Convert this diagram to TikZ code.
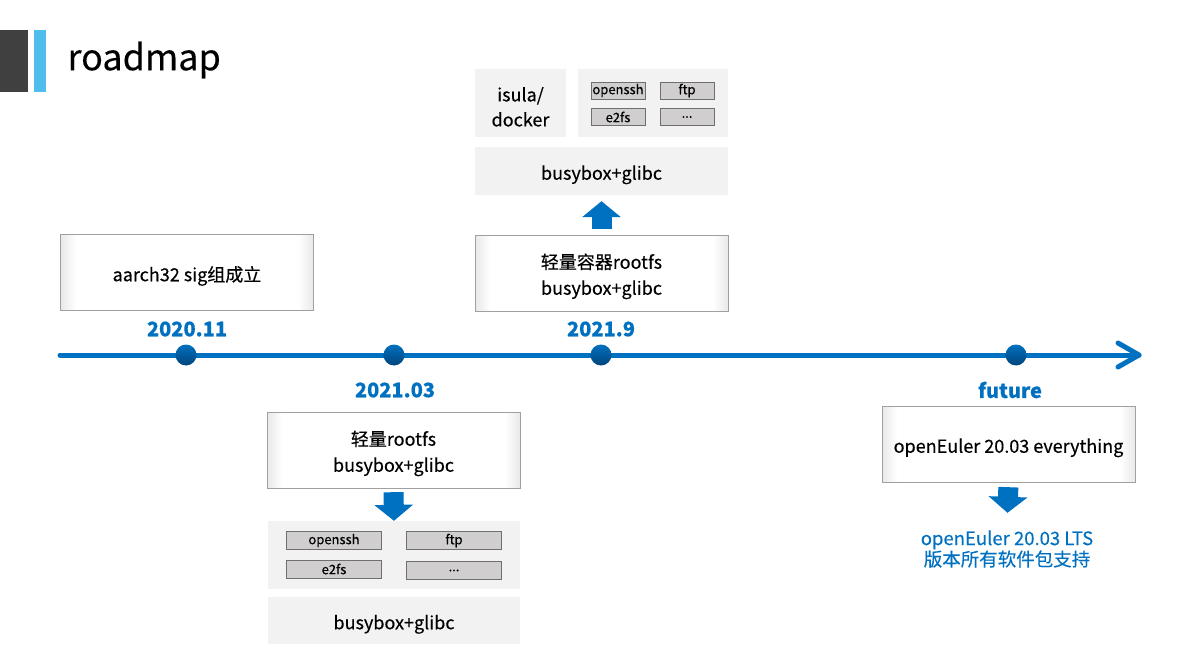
\documentclass[tikz,border=0pt]{standalone}
\usepackage{fontspec}
\setmainfont{Noto Sans CJK SC}[FakeBold=0.3]
\usetikzlibrary{arrows.meta}
\definecolor{roadBlue}{HTML}{0070C0}
\definecolor{dotDark}{HTML}{00457A}
\definecolor{titleGray}{HTML}{404040}
\definecolor{titleBlue}{HTML}{50BEEC}
\definecolor{layerGray}{HTML}{F2F2F2}
\definecolor{pkgFill}{HTML}{D0CECE}
\definecolor{pkgLine}{HTML}{6F6F6F}
\definecolor{boxLine}{HTML}{A0A0A0}
\newcommand{\pkgDots}{.\kern0pt.\kern0pt.}
\newcommand{\boxStrut}{\rule{0pt}{22pt}}
\pgfdeclarehorizontalshading{boxEdge}{100bp}{color(0bp)=(black!9); color(25bp)=(black!9);
  color(28bp)=(white); color(72bp)=(white); color(75bp)=(black!9); color(100bp)=(black!9)}
\begin{document}
\begin{tikzpicture}
[x=1pt,y=-1pt,
  boxDecorate/.style={draw=boxLine,shading=boxEdge,minimum width=253pt,minimum height=76pt,
    align=center,font=\fontsize{18}{26}\selectfont},
  layerDecorate/.style={fill=layerGray,inner sep=0pt,align=center,font=\fontsize{18}{25}\selectfont},
  pkgDecorate/.style={draw=pkgLine,fill=pkgFill,inner sep=0pt,font=\fontsize{#1}{#1}\selectfont},
  dateDecorate/.style={text=roadBlue,font=\fontsize{20}{20}\selectfont\bfseries},
  dotDecorate/.style={shape=circle,inner sep=0pt,minimum size=21pt,top color=roadBlue,bottom color=dotDark},
  blockArrow/.style={draw=roadBlue,line width=20pt,-{Triangle[width=38pt,length=16pt]}}]
%% title
\fill[titleGray] (0,30) rectangle (28,92);
\fill[titleBlue] (34,30) rectangle (46,92);
\node (title) [anchor=west,font=\fontsize{36}{36}\selectfont] at (64,60) {roadmap};
%% timeline
\coordinate (tlStart) at (60,355);
\coordinate (tlEnd) at (1139,355);
\draw[roadBlue,line width=5pt,line cap=round] (tlStart) -- (tlEnd);
\draw[roadBlue,line width=5pt,line cap=round,line join=round]
  ([shift={(-21,-12)}]tlEnd) -- (tlEnd) -- ([shift={(-21,12)}]tlEnd);
\foreach \nodename/\x in {d1/186, d2/394, d3/601, d4/1016}
{
  \node (\nodename) at (\x,355) [dotDecorate] {};
}
%% dates
\foreach \nodename/\x/\y/\datetext in {
  t1/187/329/2020.11, t2/395/390/2021.03, t3/601/329/2021.9, t4/1010/390/future}
{
  \node (\nodename) at (\x,\y) [dateDecorate] {\datetext};
}
%% milestone boxes
\node (sig) at (187,272.5) [boxDecorate] {\boxStrut aarch32 sig组成立};
\node (box21) at (601.5,273) [boxDecorate] {\boxStrut 轻量容器rootfs\\busybox+glibc};
\node (box13) at (393.5,450) [boxDecorate] {\boxStrut 轻量rootfs\\busybox+glibc};
\node (boxFut) at (1008.5,444) [boxDecorate] {\boxStrut openEuler 20.03 everything};
%% layers of 2021.9
\node (busyTop) at (601.5,171) [layerDecorate,minimum width=253pt,minimum height=48pt] {\boxStrut busybox+glibc};
\node (isula) at (520.5,103) [layerDecorate,minimum width=91pt,minimum height=68pt] {\boxStrut isula/\\docker};
\node (pkgTop) at (653,103) [layerDecorate,minimum width=150pt,minimum height=68pt] {};
\foreach \nodename/\x/\y/\pkgtext in {
  p1/618/90.5/openssh, p2/687/90.5/ftp, p3/618/117/e2fs, p4/687/117/\pkgDots}
{
  \node (\nodename) at (\x,\y) [pkgDecorate=13,minimum width=54pt,minimum height=17pt] {\pkgtext};
}
%% layers of 2021.03
\node (pkgBot) at (394,555) [layerDecorate,minimum width=252pt,minimum height=68pt] {};
\node (busyBot) at (394,620.5) [layerDecorate,minimum width=252pt,minimum height=47pt] {\boxStrut busybox+glibc};
\foreach \nodename/\x/\y/\pkgtext in {
  q1/334/540.5/openssh, q2/454/540.5/ftp, q3/334/569/e2fs, q4/454/570.5/\pkgDots}
{
  \node (\nodename) at (\x,\y) [pkgDecorate=13,minimum width=95pt,minimum height=18pt] {\pkgtext};
}
%% future support
\node (lts) at (1007,549) [text=roadBlue,align=center,font=\fontsize{18.5}{21}\selectfont]
  {openEuler 20.03 LTS\\版本所有软件包支持};
%% block arrows
\draw[blockArrow,shorten <=6pt,shorten >=6pt] (box21.north) -- (busyTop.south);
\draw[blockArrow,shorten <=4pt] (box13.south) -- (pkgBot.north);
\draw[blockArrow,shorten <=5pt,shorten >=14pt] (boxFut.south) -- (lts.north);
\useasboundingbox (0,0) rectangle (1193,663);
\end{tikzpicture}
\end{document}
